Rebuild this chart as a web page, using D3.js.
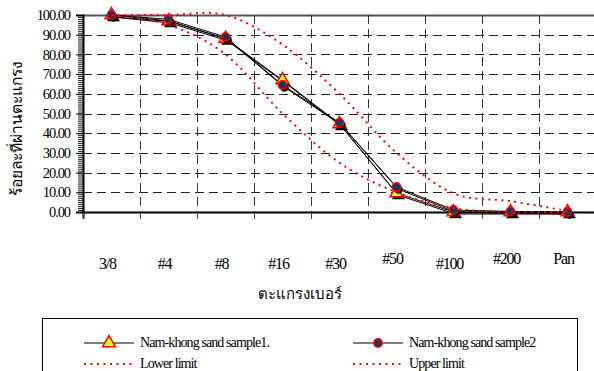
<!DOCTYPE html>
<html>
<head>
<meta charset="utf-8">
<script src="https://cdn.jsdelivr.net/npm/d3@7"></script>
<style>
  body { margin: 0; background: #fff; }
  svg { display: block; }
  text { font-family: "Liberation Serif", "Times New Roman", serif; fill: #000; }
</style>
</head>
<body>
<script>
var sieves = ["3/8", "#4", "#8", "#16", "#30", "#50", "#100", "#200", "Pan"];
var sample1 = [100, 97, 88, 67, 44.7, 9.6, 0, 0, 0];
var sample2 = [100, 97.8, 88.8, 64.5, 45.3, 12.7, 1, 0.3, 0];
var lowerLimit = [100, 95, 80, 50, 25, 10, 2, 0, 0];
var upperLimit = [100, 100, 100, 85, 60, 30, 9.5, 5.5, 0.5];
var yTicks = [0, 10, 20, 30, 40, 50, 60, 70, 80, 90, 100];

var w = 594, h = 371;
var plotLeft = 83, plotTop = 15, plotBottom = 212, plotRight = 596;

var svg = d3.select("body").append("svg")
  .attr("width", w).attr("height", h);

var xScale = d3.scaleBand().domain(sieves).range([plotLeft, plotRight]).padding(0);
var yScale = d3.scaleLinear().domain([0, 100]).range([plotBottom, plotTop]);
var cx = function(d, i) { return xScale(sieves[i]) + xScale.bandwidth() / 2; };
var crisp = function(v) { return Math.round(v) + 0.5; };

// grid
svg.append("g").selectAll("line").data(yTicks.slice(1)).enter().append("line")
  .attr("x1", plotLeft).attr("x2", plotRight)
  .attr("y1", function(d) { return crisp(yScale(d)); }).attr("y2", function(d) { return crisp(yScale(d)); })
  .attr("stroke", function(d) { return d == 100 ? "#555" : "#222"; })
  .attr("stroke-width", function(d) { return d == 100 ? 2 : 1; })
  .attr("stroke-dasharray", function(d) { return d == 100 ? null : "9,5"; });

svg.append("g").selectAll("line").data(sieves.slice(1)).enter().append("line")
  .attr("x1", function(d) { return crisp(xScale(d)); }).attr("x2", function(d) { return crisp(xScale(d)); })
  .attr("y1", plotTop).attr("y2", plotBottom)
  .attr("stroke", "#333").attr("stroke-dasharray", "9,5");

// y axis with minor ticks
var yAxis = d3.axisLeft(yScale).tickValues(yTicks).tickSize(7).tickPadding(6)
  .tickFormat(d3.format(".2f"));
var yMinor = d3.axisLeft(yScale).tickValues(d3.range(0, 101, 1)).tickSize(5).tickFormat("");
svg.append("g").attr("transform", "translate(" + plotLeft + ",0)").call(yMinor)
  .call(function(g) { g.select(".domain").remove(); g.selectAll("line").attr("stroke", "#222"); });
var gy = svg.append("g").attr("transform", "translate(" + plotLeft + ",0)").call(yAxis);
gy.select(".domain").attr("stroke", "#000").attr("stroke-width", 2);
gy.selectAll("text").style("font-size", "14.5px").attr("letter-spacing", "-1.1px")
  .style("font-family", "Liberation Serif");

// x axis
var xAxis = d3.axisBottom(xScale).tickValues(sieves).tickSize(7).tickFormat("");
var gx = svg.append("g").attr("transform", "translate(0," + plotBottom + ")").call(xAxis);
gx.select(".domain").attr("stroke", "#000").attr("stroke-width", 2);
gx.selectAll(".tick").attr("transform", function(d) { return "translate(" + crisp(xScale(d)) + ",0)"; });
gx.selectAll("line").attr("stroke", "#444");

svg.append("g").selectAll("text").data(sieves).enter().append("text")
  .attr("x", function(d, i) { return cx(d, i) - 4; })
  .attr("y", function(d, i) { return [5, 7, 8].indexOf(i) >= 0 ? 264 : 269; })
  .attr("text-anchor", "middle")
  .style("font-size", "16px").attr("letter-spacing", "-1.2px")
  .text(function(d) { return d; });

// titles
svg.append("text").attr("x", 300).attr("y", 299).attr("text-anchor", "middle")
  .style("font-size", "15px").style("font-family", "'Noto Sans', 'DejaVu Sans', sans-serif")
  .text("ตะแกรงเบอร์");
svg.append("text").attr("transform", "translate(22,128) rotate(-90)").attr("text-anchor", "middle")
  .style("font-size", "15.5px").style("font-family", "'Noto Sans', 'DejaVu Sans', sans-serif")
  .text("ร้อยละที่ผ่านตะแกรง");

// series lines
var line = d3.line().x(cx).y(function(d) { return yScale(d); });
var smooth = d3.line().x(cx).y(function(d) { return yScale(d); }).curve(d3.curveCatmullRom.alpha(0));

[sample1, sample2].forEach(function(s) {
  svg.append("path").datum(s).attr("d", line).attr("fill", "none")
    .attr("stroke", "#000").attr("stroke-width", 1).attr("transform", "translate(1.5,2)");
  svg.append("path").datum(s).attr("d", line).attr("fill", "none")
    .attr("stroke", "#000").attr("stroke-width", 1);
});

// markers
var tri = d3.symbol().type(d3.symbolTriangle).size(72);
var circ = d3.symbol().type(d3.symbolCircle).size(55);
function markers(data, sym, fill) {
  var g = svg.append("g");
  g.selectAll(".sh").data(data).enter().append("path").attr("d", sym)
    .attr("transform", function(d, i) { return "translate(" + (cx(d, i) + 2) + "," + (yScale(d) + 2.5) + ")"; })
    .attr("fill", "#000");
  g.selectAll(".mk").data(data).enter().append("path").attr("d", sym)
    .attr("transform", function(d, i) { return "translate(" + cx(d, i) + "," + yScale(d) + ")"; })
    .attr("fill", fill).attr("stroke", "#ff0000").attr("stroke-width", 1.5);
}
markers(sample1, tri, "#ffff00");
markers(sample2, circ, "#1a3560");

// limits
[lowerLimit, upperLimit].forEach(function(s) {
  svg.append("path").datum(s).attr("d", smooth).attr("fill", "none")
    .attr("stroke", "#ff0000").attr("stroke-width", 2).attr("stroke-dasharray", "2,4.5");
});

// legend
var lg = svg.append("g");
lg.append("rect").attr("x", 42.5).attr("y", 318.5).attr("width", 535).attr("height", 60)
  .attr("fill", "#fff").attr("stroke", "#000");
var items = [
  { name: "Nam-khong sand sample1.", x: 84, y: 343, type: "tri" },
  { name: "Nam-khong sand sample2", x: 353, y: 343, type: "circ" },
  { name: "Lower limit", x: 84, y: 364, type: "dot" },
  { name: "Upper limit", x: 353, y: 364, type: "dot" }
];
items.forEach(function(it) {
  var l = lg.append("line").attr("x1", it.x).attr("x2", it.x + 50).attr("y1", it.y).attr("y2", it.y);
  if (it.type == "dot") {
    l.attr("stroke", "#ff0000").attr("stroke-width", 2).attr("stroke-dasharray", "2,4.5");
  } else {
    l.attr("stroke", "#000");
    lg.append("path").attr("d", it.type == "tri" ? tri : circ)
      .attr("transform", "translate(" + (it.x + 25) + "," + it.y + ")")
      .attr("fill", it.type == "tri" ? "#ffff00" : "#1a3560")
      .attr("stroke", "#ff0000").attr("stroke-width", 1.5);
  }
  lg.append("text").attr("x", it.x + 56).attr("y", it.y + 4)
    .style("font-size", "14px").attr("letter-spacing", "-0.9px").text(it.name);
});
</script>
</body>
</html>
